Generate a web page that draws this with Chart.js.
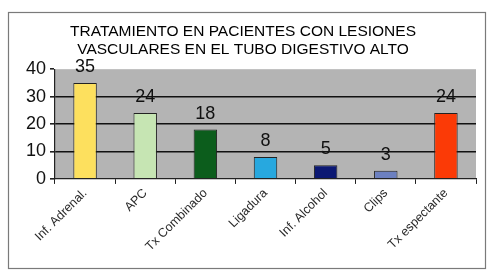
<!DOCTYPE html>
<html>
<head>
<meta charset="utf-8">
<script src="https://cdn.jsdelivr.net/npm/chart.js@4.4.1/dist/chart.umd.min.js"></script>
<style>
    html, body { margin: 0; padding: 0; background: #fff; }
    #wrap { width: 500px; height: 273px; }
</style>
</head>
<body>
<div id="wrap"><canvas id="chart" width="500" height="273"></canvas></div>
<script>
const titleLines = ['TRATAMIENTO EN PACIENTES CON LESIONES', 'VASCULARES EN EL TUBO DIGESTIVO ALTO'];
const treatments = ['Inf. Adrenal.', 'APC', 'Tx Combinado', 'Ligadura', 'Inf. Alcohol', 'Clips', 'Tx espectante'];
const patients = [35, 24, 18, 8, 5, 3, 24];
const barColors = ['#fde05e', '#c6e5b3', '#0c5d1c', '#27a8df', '#0b1873', '#6c80c0', '#fb3a06'];
const yTicks = [0, 10, 20, 30, 40];

// white page, thin outer frame and grey plot background
const framePlugin = {
    id: 'frame',
    beforeDraw(chart) {
        const ctx = chart.ctx;
        const area = chart.chartArea;
        ctx.save();
        ctx.fillStyle = '#fff';
        ctx.fillRect(0, 0, chart.width, chart.height);
        ctx.strokeStyle = '#7a7a7a';
        ctx.lineWidth = 1.2;
        ctx.strokeRect(8.5, 12.5, 477, 256);
        ctx.fillStyle = '#b4b4b4';
        ctx.fillRect(area.left, area.top, area.right - area.left, area.bottom - area.top);
        ctx.restore();
    }
};

// value above each bar
const valueLabels = {
    id: 'valueLabels',
    afterDatasetsDraw(chart) {
        const ctx = chart.ctx;
        const meta = chart.getDatasetMeta(0);
        ctx.save();
        ctx.font = '18px "Liberation Sans", Arial, sans-serif';
        ctx.fillStyle = '#111';
        ctx.textAlign = 'center';
        ctx.textBaseline = 'bottom';
        meta.data.forEach((bar, i) => {
            ctx.fillText(String(patients[i]), bar.x, bar.y - 7);
        });
        ctx.restore();
    }
};

const ctx = document.getElementById('chart').getContext('2d');
new Chart(ctx, {
    type: 'bar',
    data: {
        labels: treatments,
        datasets: [{
            data: patients,
            backgroundColor: barColors,
            borderColor: '#222',
            borderWidth: 1,
            categoryPercentage: 1,
            barPercentage: 0.39
        }]
    },
    options: {
        responsive: false,
        animation: false,
        devicePixelRatio: 1,
        layout: {
            padding: { left: 10, right: 24, bottom: 17 }
        },
        plugins: {
            legend: { display: false },
            tooltip: { enabled: false },
            title: {
                display: true,
                text: titleLines,
                color: '#000',
                font: { family: '"Liberation Sans", Arial, sans-serif', size: 15.5, weight: 'normal', lineHeight: 1.2 },
                padding: { top: 22, bottom: 10 }
            }
        },
        scales: {
            y: {
                min: 0,
                max: 40,
                afterBuildTicks(axis) {
                    axis.ticks = yTicks.map(v => ({ value: v }));
                },
                afterFit(axis) {
                    axis.width = 45;
                },
                ticks: {
                    color: '#111',
                    padding: 4,
                    font: { family: '"Liberation Sans", Arial, sans-serif', size: 18 }
                },
                grid: {
                    color: c => (c.tick.value === 0 || c.tick.value === 40) ? 'rgba(0,0,0,0)' : '#111',
                    lineWidth: 1.6,
                    tickColor: '#222',
                    tickLength: 5
                },
                border: { color: '#222', width: 1.2 }
            },
            x: {
                ticks: {
                    color: '#2a2a2a',
                    maxRotation: 45,
                    minRotation: 45,
                    padding: 2,
                    font: { family: '"Liberation Sans", Arial, sans-serif', size: 12.5 }
                },
                grid: {
                    offset: true,
                    drawOnChartArea: false,
                    tickColor: '#222',
                    tickLength: 5
                },
                border: { color: '#222', width: 1.2 }
            }
        }
    },
    plugins: [framePlugin, valueLabels]
});
</script>
</body>
</html>
